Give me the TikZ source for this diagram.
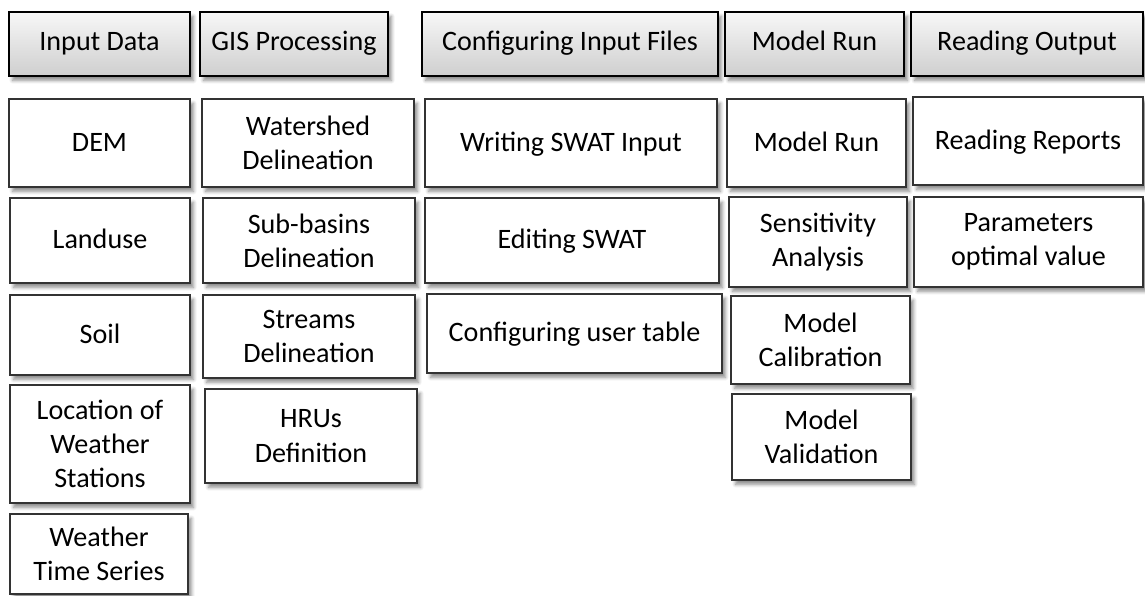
\documentclass[tikz,border=0pt]{standalone}
\usepackage{fontspec}
\setmainfont{Carlito}
\usetikzlibrary{shadows.blur}

\tikzset{
  boxfont/.style={font=\fontsize{16}{19.5}\selectfont},
  headbox/.style={draw=black, line width=1.3pt, top color=gray!6, bottom color=gray!38,
    inner sep=0pt, align=center, boxfont, text height=0.9em, text depth=0.16em,
    blur shadow={shadow xshift=2pt, shadow yshift=-2.5pt, shadow blur steps=6, shadow opacity=45}},
  itembox/.style={draw=black!80, line width=0.8pt, fill=white,
    inner sep=0pt, align=center, boxfont,
    blur shadow={shadow xshift=2pt, shadow yshift=-2.5pt, shadow blur steps=6, shadow opacity=45}},
  oneline/.style={text height=1.1em, text depth=0.16em}
}
% \cellbox{style}{name}{x1}{y1}{x2}{y2}{text}, corners in pixels
\newcommand{\cellbox}[7]{%
  \node (#2) [#1, minimum width={0.02cm*(#5-#3)}, minimum height={0.02cm*(#6-#4)}]
    at ({(#3+#5)/2},{(#4+#6)/2}) {#7};}

\begin{document}
\begin{tikzpicture}[x=0.02cm,y=-0.02cm]
  \useasboundingbox (0,0) rectangle (1145,595);
  % column headers
  \cellbox{headbox}{hinput}{9}{12}{190}{76}{Input Data}
  \cellbox{headbox}{hgis}{200}{12}{388}{76}{GIS Processing}
  \cellbox{headbox}{hconf}{422}{12}{718}{76}{Configuring Input Files}
  \cellbox{headbox}{hrun}{725}{12}{904}{76}{Model Run}
  \cellbox{headbox}{hout}{911}{12}{1143}{76}{Reading Output}
  % input data
  \cellbox{itembox,oneline}{dem}{9}{99}{190}{187}{DEM}
  \cellbox{itembox,oneline}{landuse}{10}{198}{190}{283}{Landuse}
  \cellbox{itembox,oneline}{soil}{10}{295}{190}{375}{Soil}
  \cellbox{itembox}{stations}{10}{385}{190}{503}{Location of\\Weather\\Stations}
  \cellbox{itembox}{series}{10}{514}{188}{594}{Weather\\Time Series}
  % gis processing
  \cellbox{itembox}{watershed}{202}{99}{414}{187}{Watershed\\Delineation}
  \cellbox{itembox}{subbasins}{203}{198}{415}{283}{Sub-basins\\Delineation}
  \cellbox{itembox}{streams}{203}{295}{415}{378}{Streams\\Delineation}
  \cellbox{itembox}{hrus}{205}{389}{417}{483}{HRUs\\Definition}
  % configuring input files
  \cellbox{itembox,oneline}{writing}{425}{99}{717}{187}{Writing SWAT Input}
  \cellbox{itembox,oneline}{editing}{425}{198}{719}{283}{Editing SWAT}
  \cellbox{itembox,oneline}{usertable}{427}{294}{722}{373}{Configuring user table}
  % model run
  \cellbox{itembox,oneline}{run}{727}{99}{906}{187}{Model Run}
  \cellbox{itembox}{sensitivity}{729}{197}{907}{287}{Sensitivity\\Analysis}
  \cellbox{itembox}{calibration}{731}{296}{910}{384}{Model\\Calibration}
  \cellbox{itembox}{validation}{732}{394}{911}{480}{Model\\Validation}
  % reading output
  \cellbox{itembox,oneline}{reports}{913}{97}{1143}{185}{Reading Reports}
  \cellbox{itembox}{params}{914}{197}{1143}{287}{Parameters\\optimal value}
\end{tikzpicture}
\end{document}
